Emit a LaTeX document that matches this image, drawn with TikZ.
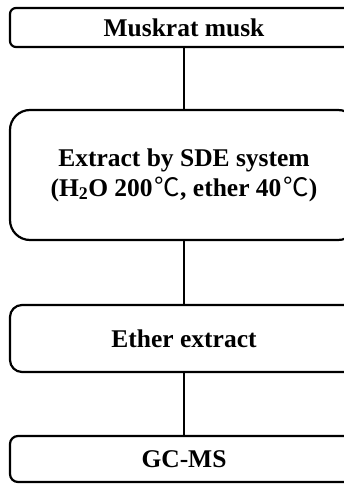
\documentclass[tikz,border=0pt]{standalone}
\usepackage{fontspec}
\setmainfont{Liberation Serif}
\newfontfamily\celsiusfont{Noto Sans CJK KR}
\newcommand{\degC}{\kern2pt{\celsiusfont\mdseries ℃}}
\begin{document}
\begin{tikzpicture}[x=1pt,y=-1pt,
  flowbox/.style={draw=black, line width=2.2pt, fill=white, minimum width=348pt,
    align=center, inner sep=0pt, font=\fontsize{25.5}{30}\selectfont\bfseries},
  link/.style={draw=black, line width=2.2pt}]
  \useasboundingbox (0,0) rectangle (344,484);
  % process steps, top to bottom
  \node[flowbox, rounded corners=6pt, minimum height=39pt] (musk) at (184,27.5) {Muskrat musk};
  \node[flowbox, rounded corners=20pt, minimum height=130pt] (sde) at (184,175)
    {Extract by SDE system\\(H\textsubscript{2}O 200\degC, ether 40\degC)};
  \node[flowbox, rounded corners=12pt, minimum height=67pt] (ether) at (184,338.5) {Ether extract};
  \node[flowbox, rounded corners=8pt, minimum height=46pt] (gcms) at (184,459) {GC-MS};
  % connectors between the steps
  \draw[link] (musk.south) -- (sde.north);
  \draw[link] (sde.south) -- (ether.north);
  \draw[link] (ether.south) -- (gcms.north);
\end{tikzpicture}
\end{document}
